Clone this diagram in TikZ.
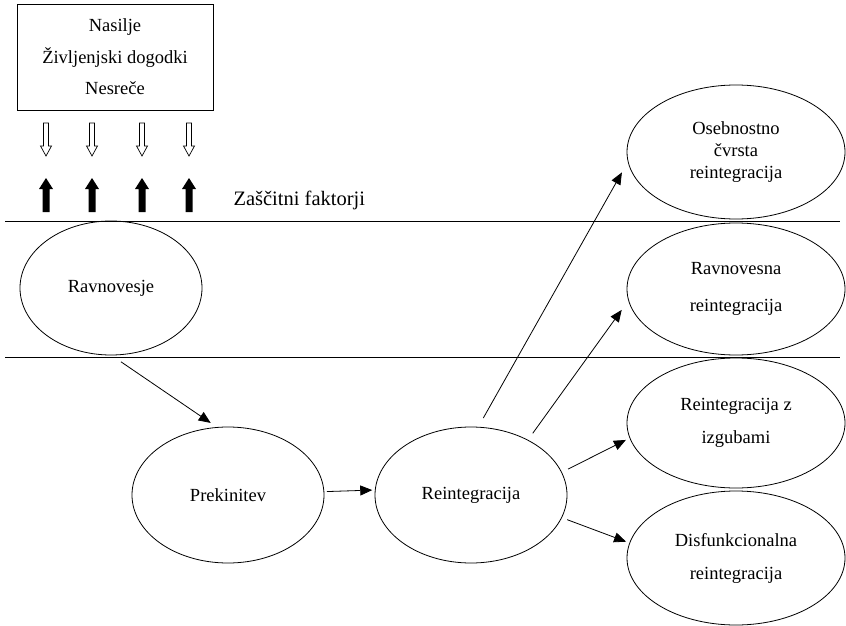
\documentclass[tikz,border=0pt]{standalone}
\usepackage{fontspec}
\setmainfont{Liberation Serif}
\usepackage{tikz}
\usetikzlibrary{positioning,shapes,arrows.meta}
\tikzstyle{okvir}=[draw, rectangle, minimum width=196pt, minimum height=106pt, align=center, line width=0.8pt, font=\rmfamily\fontsize{18.5}{31.5}\selectfont]
\tikzstyle{elip}=[draw, ellipse, minimum width=192pt, minimum height=136pt, inner sep=1pt, outer sep=0pt, line width=0.8pt, align=center]
\tikzstyle{elip2}=[elip, minimum width=218pt, minimum height=134pt]
\tikzstyle{pusica}=[-{Triangle[length=12pt,width=10pt]}, line width=0.8pt]
\begin{document}
\begin{tikzpicture}[x=1pt,y=-1pt,font=\rmfamily\fontsize{18.5}{22}\selectfont]
\useasboundingbox (0,0) rectangle (846,626);
  \node[okvir] at (115,57) (dogodki) {Nasilje\\ Življenjski dogodki\\ Nesreče};

% prazne in polne puscice
\foreach \x in {46,92,142,189}{
  \draw[line width=0.7pt] (\x-2.5,123) -- (\x+2.5,123) -- (\x+2.5,146) -- (\x+5.5,146) -- (\x,156) -- (\x-5.5,146) -- (\x-2.5,146) -- cycle;
  \fill (\x-3.5,212) -- (\x-3.5,189) -- (\x-7,189) -- (\x,178) -- (\x+7,189) -- (\x+3.5,189) -- (\x+3.5,212) -- cycle;
}
\node[anchor=west, font=\rmfamily\fontsize{20.5}{24}\selectfont] at (230,200) (zascita) {Zaščitni faktorji};

\coordinate (crta1a) at (5,221);
\coordinate (crta1b) at (840,221);
\coordinate (crta2a) at (5,357);
\coordinate (crta2b) at (840,357);
\draw[line width=0.8pt] (crta1a) -- (crta1b);
\draw[line width=0.8pt] (crta2a) -- (crta2b);

  \node[elip, minimum width=182pt, minimum height=134pt] at (111,288) (ravnovesje) {Ravnovesje};
  \node[elip] at (228,495) (prekinitev) {Prekinitev};
  \node[elip, right of = prekinitev, node distance = 243pt] (reintegracija) {Reintegracija};

  \node[elip2] at (736,152) (osebnostno) {Osebnostno\\ čvrsta\\ reintegracija};
  \node[elip2, below of = osebnostno, node distance = 137pt, minimum height=132pt] (ravnovesna) {Ravnovesna\\[15pt] reintegracija};
  \node[elip2, below of = ravnovesna, node distance = 134pt, minimum height=130pt] (izgube) {Reintegracija z\\[11pt] izgubami};
  \node[elip2, below of = izgube, node distance = 135pt] (disfunkcija) {Disfunkcionalna\\[11pt] reintegracija};

\draw[pusica, shorten <=12pt, shorten >=8pt] (ravnovesje.south) -- (prekinitev.99.6);
\draw[pusica, shorten <=3pt, shorten >=3pt] (prekinitev.2.4) -- (reintegracija.177.6);
\draw[pusica, shorten <=10.5pt, shorten >=12.6pt] (reintegracija.84.3) -- (osebnostno.185.3);
\draw[pusica, shorten <=8.5pt, shorten >=11.8pt] (reintegracija.44.6) -- (ravnovesna.186.7);
\draw[pusica, shorten <=7.3pt, shorten >=4.5pt] (reintegracija.14.1) -- (izgube.188.1);
\draw[pusica, shorten <=6pt, shorten >=3.9pt] (reintegracija.-14.2) -- (disfunkcija.172.2);
\end{tikzpicture}
\end{document}
